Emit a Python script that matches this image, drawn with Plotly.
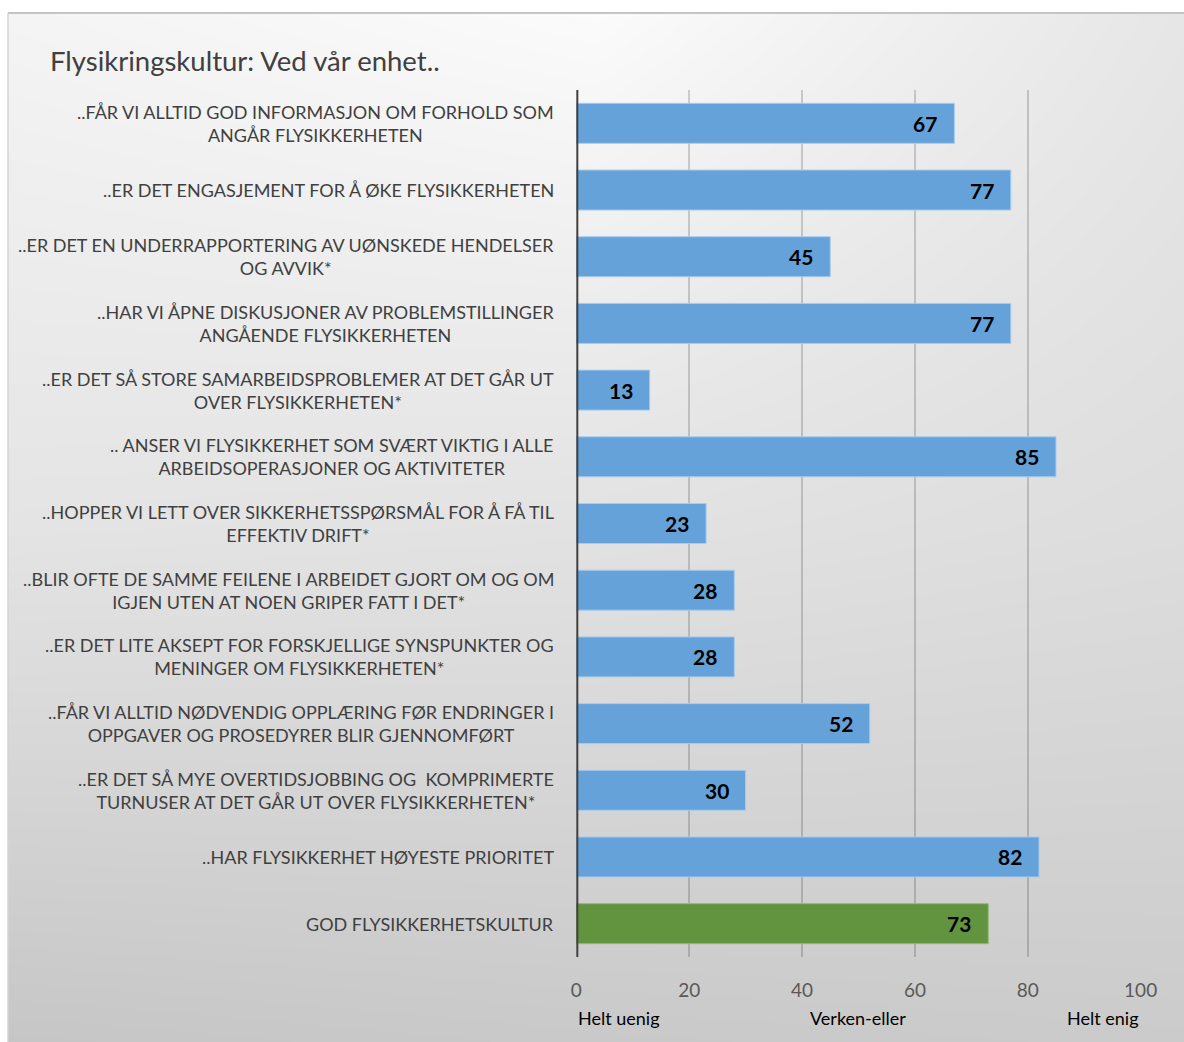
import plotly.graph_objects as go

# ---- data -------------------------------------------------------------
statements = [
    "..FÅR VI ALLTID GOD INFORMASJON OM FORHOLD SOM<br>ANGÅR FLYSIKKERHETEN",
    "..ER DET ENGASJEMENT FOR Å ØKE FLYSIKKERHETEN",
    "..ER DET EN UNDERRAPPORTERING AV UØNSKEDE HENDELSER<br>OG AVVIK*",
    "..HAR VI ÅPNE DISKUSJONER AV PROBLEMSTILLINGER<br>ANGÅENDE FLYSIKKERHETEN",
    "..ER DET SÅ STORE SAMARBEIDSPROBLEMER AT DET GÅR UT<br>OVER FLYSIKKERHETEN*",
    ".. ANSER VI FLYSIKKERHET SOM SVÆRT VIKTIG I ALLE<br>ARBEIDSOPERASJONER OG AKTIVITETER",
    "..HOPPER VI LETT OVER SIKKERHETSSPØRSMÅL FOR Å FÅ TIL<br>EFFEKTIV DRIFT*",
    "..BLIR OFTE DE SAMME FEILENE I ARBEIDET GJORT OM OG OM<br>IGJEN UTEN AT NOEN GRIPER FATT I DET*",
    "..ER DET LITE AKSEPT FOR FORSKJELLIGE SYNSPUNKTER OG<br>MENINGER OM FLYSIKKERHETEN*",
    "..FÅR VI ALLTID NØDVENDIG OPPLÆRING FØR ENDRINGER I<br>OPPGAVER OG PROSEDYRER BLIR GJENNOMFØRT",
    "..ER DET SÅ MYE OVERTIDSJOBBING OG &nbsp;KOMPRIMERTE<br>TURNUSER AT DET GÅR UT OVER FLYSIKKERHETEN*",
    "..HAR FLYSIKKERHET HØYESTE PRIORITET",
    "GOD FLYSIKKERHETSKULTUR",
]
scores = [67, 77, 45, 77, 13, 85, 23, 28, 28, 52, 30, 82, 73]
x_ticks = [0, 20, 40, 60, 80, 100]
scale_labels = ["Helt uenig", "Verken-eller", "Helt enig"]
scale_positions = [0, 50, 100]
title_text = "Flysikringskultur: Ved vår enhet.."

# ---- style ------------------------------------------------------------
W, H = 1202, 1042
X_OFF, X_SCALE = 8.0, 0.9786
FONT = "Lato"
BLUE, BLUE_EDGE = "#66a2da", "#a9cbec"
GREEN, GREEN_EDGE = "#62933f", "#93b878"


def px_x(p):
    """horizontal page pixel -> paper fraction"""
    return (p - X_OFF) / (X_SCALE * W)


def px_y(p):
    """vertical page pixel (from top) -> paper fraction"""
    return 1 - p / H


n = len(statements)
positions = list(range(n))
is_total = [i == n - 1 for i in positions]

fig = go.Figure()

# soft grey gradient behind the chart frame
fig.add_trace(go.Heatmap(
    z=[[198, 201, 203], [228, 226, 221], [244, 251, 230]],
    x=[0, 1, 2], y=[0, 1, 2],
    zsmooth="best", showscale=False, hoverinfo="skip",
    colorscale=[[0, "rgb(198,198,198)"], [1, "rgb(251,251,251)"]],
    zmin=198, zmax=251,
    xaxis="x", yaxis="y",
))

fig.add_trace(go.Bar(
    x=scores, y=positions, orientation="h", width=0.6,
    marker=dict(
        color=[GREEN if t else BLUE for t in is_total],
        line=dict(color=[GREEN_EDGE if t else BLUE_EDGE for t in is_total], width=1),
    ),
    hoverinfo="skip", xaxis="x2", yaxis="y2",
))

annotations = []
# statement labels, centred lines, right edge beside the axis
for i, s in enumerate(statements):
    annotations.append(dict(
        x=px_x(557), xref="paper", y=i, yref="y2", text=s,
        xanchor="right", yanchor="middle", align="center", showarrow=False,
        font=dict(family=FONT, size=18, color="#404040"),
    ))
# value labels at the inner end of each bar
for i, v in enumerate(scores):
    annotations.append(dict(
        x=v, xref="x2", y=i, yref="y2", text=f"<b>{v}</b>",
        xanchor="right", yanchor="middle", xshift=-15, showarrow=False,
        font=dict(family=FONT, size=21, color="#000000"),
    ))
# scale descriptions under the tick labels
for lab, pos, anc in zip(scale_labels, scale_positions, ["left", "center", "right"]):
    annotations.append(dict(
        x=pos, xref="x2", y=px_y(1018), yref="paper", text=lab,
        xanchor=anc, yanchor="middle", showarrow=False,
        font=dict(family=FONT, size=18, color="#000000"),
    ))
annotations.append(dict(
    x=px_x(50), xref="paper", y=px_y(60), yref="paper", text=title_text,
    xanchor="left", yanchor="middle", showarrow=False,
    font=dict(family=FONT, size=27.5, color="#404040"),
))

y0_dom, y1_dom = px_y(957), px_y(90)

fig.update_layout(
    width=W, height=H, margin=dict(l=0, r=0, t=0, b=0),
    paper_bgcolor="white", plot_bgcolor="rgba(0,0,0,0)",
    showlegend=False, annotations=annotations,
    xaxis=dict(domain=[px_x(10), 1], range=[0, 2], visible=False, fixedrange=True),
    yaxis=dict(domain=[0, px_y(13)], range=[0, 2], visible=False, fixedrange=True),
    xaxis2=dict(
        domain=[px_x(577), px_x(1140)], anchor="y2", range=[0, 100],
        tickvals=x_ticks, ticks="", showline=False,
        showgrid=True, gridcolor="rgba(0,0,0,0.17)", gridwidth=2,
        zeroline=False, ticklabelstandoff=20,
        tickfont=dict(family=FONT, size=19, color="#595959"),
    ),
    yaxis2=dict(
        domain=[y0_dom, y1_dom], anchor="x2", range=[n - 0.5, -0.5],
        showticklabels=False, ticks="", showgrid=False, zeroline=False,
        showline=False,
    ),
    bargap=0.4,
    shapes=[
        dict(type="line", xref="x2", yref="paper", x0=0, x1=0, y0=y0_dom, y1=y1_dom,
             line=dict(color="#404040", width=4), layer="above"),
        dict(type="line", xref="paper", yref="paper", x0=px_x(10), x1=1,
             y0=px_y(13), y1=px_y(13), line=dict(color="#c4c4c4", width=2)),
        dict(type="line", xref="paper", yref="paper", x0=px_x(10), x1=px_x(10),
             y0=0, y1=px_y(13), line=dict(color="#d4d4d4", width=1.5)),
    ],
)

fig.write_html("out.html")
